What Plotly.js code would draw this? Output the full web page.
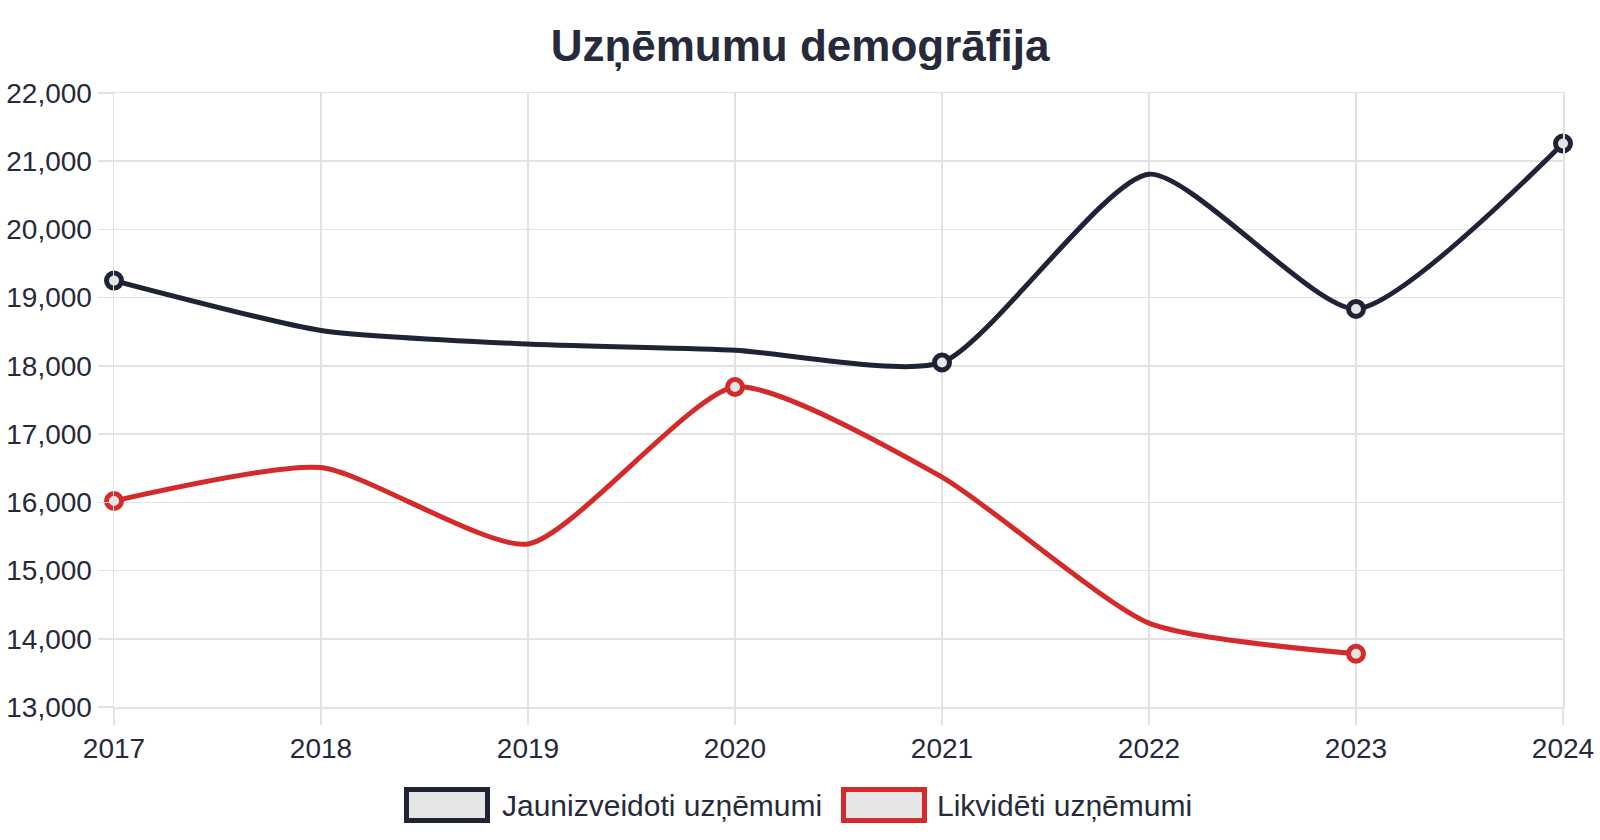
<!DOCTYPE html>
<html>
<head>
<meta charset="utf-8">
<script src="https://cdn.plot.ly/plotly-3.0.1.min.js"></script>
<style>
html,body{margin:0;padding:0;background:#fff;}
#chart{width:1600px;height:840px;}
</style>
</head>
<body>
<div id="chart"></div>
<script>
// ---- data ----
var years = [2017, 2018, 2019, 2020, 2021, 2022, 2023, 2024];
var newCompanies = [19250, 18520, 18320, 18230, 18050, 20810, 18835, 21260];
var closedCompanies = [16020, 16510, 15390, 17690, 16370, 14230, 13780, null];
var seriesNames = ['Jaunizveidoti uzņēmumi', 'Likvidēti uzņēmumi'];
var chartTitle = 'Uzņēmumu demogrāfija';
var yTicks = [13000, 14000, 15000, 16000, 17000, 18000, 19000, 20000, 21000, 22000];

// which points show a marker (style)
var newMarked = [true, false, false, false, true, false, true, true];
var closedMarked = [true, false, false, true, false, false, true, false];

// ---- style ----
var darkColor = '#1f2336';
var redColor = '#d52a2a';
var textColor = '#262a3a';
var gridColor = '#e2e2e2';
var fontFam = '"Liberation Sans", Arial, sans-serif';

var L = 114, R = 37, T = 93, B = 133, WIDTH = 1600, HEIGHT = 840;
var PW = WIDTH - L - R, PH = HEIGHT - T - B;
function px2x(px) { return (px - L) / PW; }
function px2y(py) { return (HEIGHT - B - py) / PH; }

function markerStyle(flags, color) {
  return {
    symbol: 'circle',
    opacity: 1,
    size: flags.map(function (f) { return f ? 15 : 0; }),
    color: '#e6e6e6',
    line: { color: color, width: flags.map(function (f) { return f ? 5 : 0; }) }
  };
}

var traces = [
  {
    x: years, y: newCompanies, name: seriesNames[0], type: 'scatter', mode: 'lines+markers',
    line: { color: darkColor, width: 5, shape: 'spline', smoothing: 0.6 },
    marker: markerStyle(newMarked, darkColor), hoverinfo: 'skip', cliponaxis: false
  },
  {
    x: years, y: closedCompanies, name: seriesNames[1], type: 'scatter', mode: 'lines+markers',
    line: { color: redColor, width: 5, shape: 'spline', smoothing: 0.6 },
    marker: markerStyle(closedMarked, redColor), hoverinfo: 'skip', cliponaxis: false
  }
];

// legend (drawn manually to match box-style legend)
var legendItems = [
  { color: darkColor, boxLeft: 404, textLeft: 500, label: seriesNames[0] },
  { color: redColor, boxLeft: 841, textLeft: 935, label: seriesNames[1] }
];
var legendCenterY = 805;
var shapes = [], annotations = [];
legendItems.forEach(function (it) {
  shapes.push({
    type: 'rect', xref: 'paper', yref: 'paper',
    xsizemode: 'pixel', ysizemode: 'pixel',
    xanchor: px2x(it.boxLeft), yanchor: px2y(legendCenterY),
    x0: 2.5, x1: 83.5, y0: -15.5, y1: 15.5,
    fillcolor: '#e6e6e6', line: { color: it.color, width: 5 }
  });
  annotations.push({
    xref: 'paper', yref: 'paper', x: px2x(it.textLeft), y: px2y(legendCenterY),
    xanchor: 'left', yanchor: 'middle', showarrow: false, text: it.label,
    font: { family: fontFam, size: 30, color: textColor }
  });
});

var layout = {
  width: WIDTH, height: HEIGHT,
  margin: { l: L, r: R, t: T, b: B, pad: 0 },
  paper_bgcolor: '#ffffff', plot_bgcolor: '#ffffff',
  showlegend: false,
  title: {
    text: '<b>' + chartTitle + '</b>',
    font: { family: fontFam, size: 44, color: textColor },
    x: 0.5, xanchor: 'center', y: 1 - 46 / HEIGHT, yanchor: 'middle'
  },
  xaxis: {
    range: [2017, 2024], tickmode: 'array', tickvals: years, ticktext: years.map(String),
    showgrid: true, gridcolor: gridColor, gridwidth: 1.5,
    ticks: 'outside', ticklen: 16, tickcolor: gridColor, tickwidth: 1.5,
    showline: true, linecolor: gridColor, linewidth: 1.5, mirror: true,
    zeroline: false,
    tickfont: { family: fontFam, size: 28, color: textColor },
    fixedrange: true
  },
  yaxis: {
    range: [13000, 22000], tickmode: 'array', tickvals: yTicks,
    ticktext: yTicks.map(function (v) { return v.toLocaleString('en-US'); }),
    showgrid: true, gridcolor: gridColor, gridwidth: 1.5,
    ticks: 'outside', ticklen: 15, tickcolor: gridColor, tickwidth: 1.5,
    showline: true, linecolor: gridColor, linewidth: 1.5, mirror: true,
    zeroline: false,
    tickfont: { family: fontFam, size: 28, color: textColor },
    fixedrange: true
  },
  shapes: shapes,
  annotations: annotations
};

Plotly.newPlot('chart', traces, layout, { staticPlot: true, displayModeBar: false });
</script>
</body>
</html>
